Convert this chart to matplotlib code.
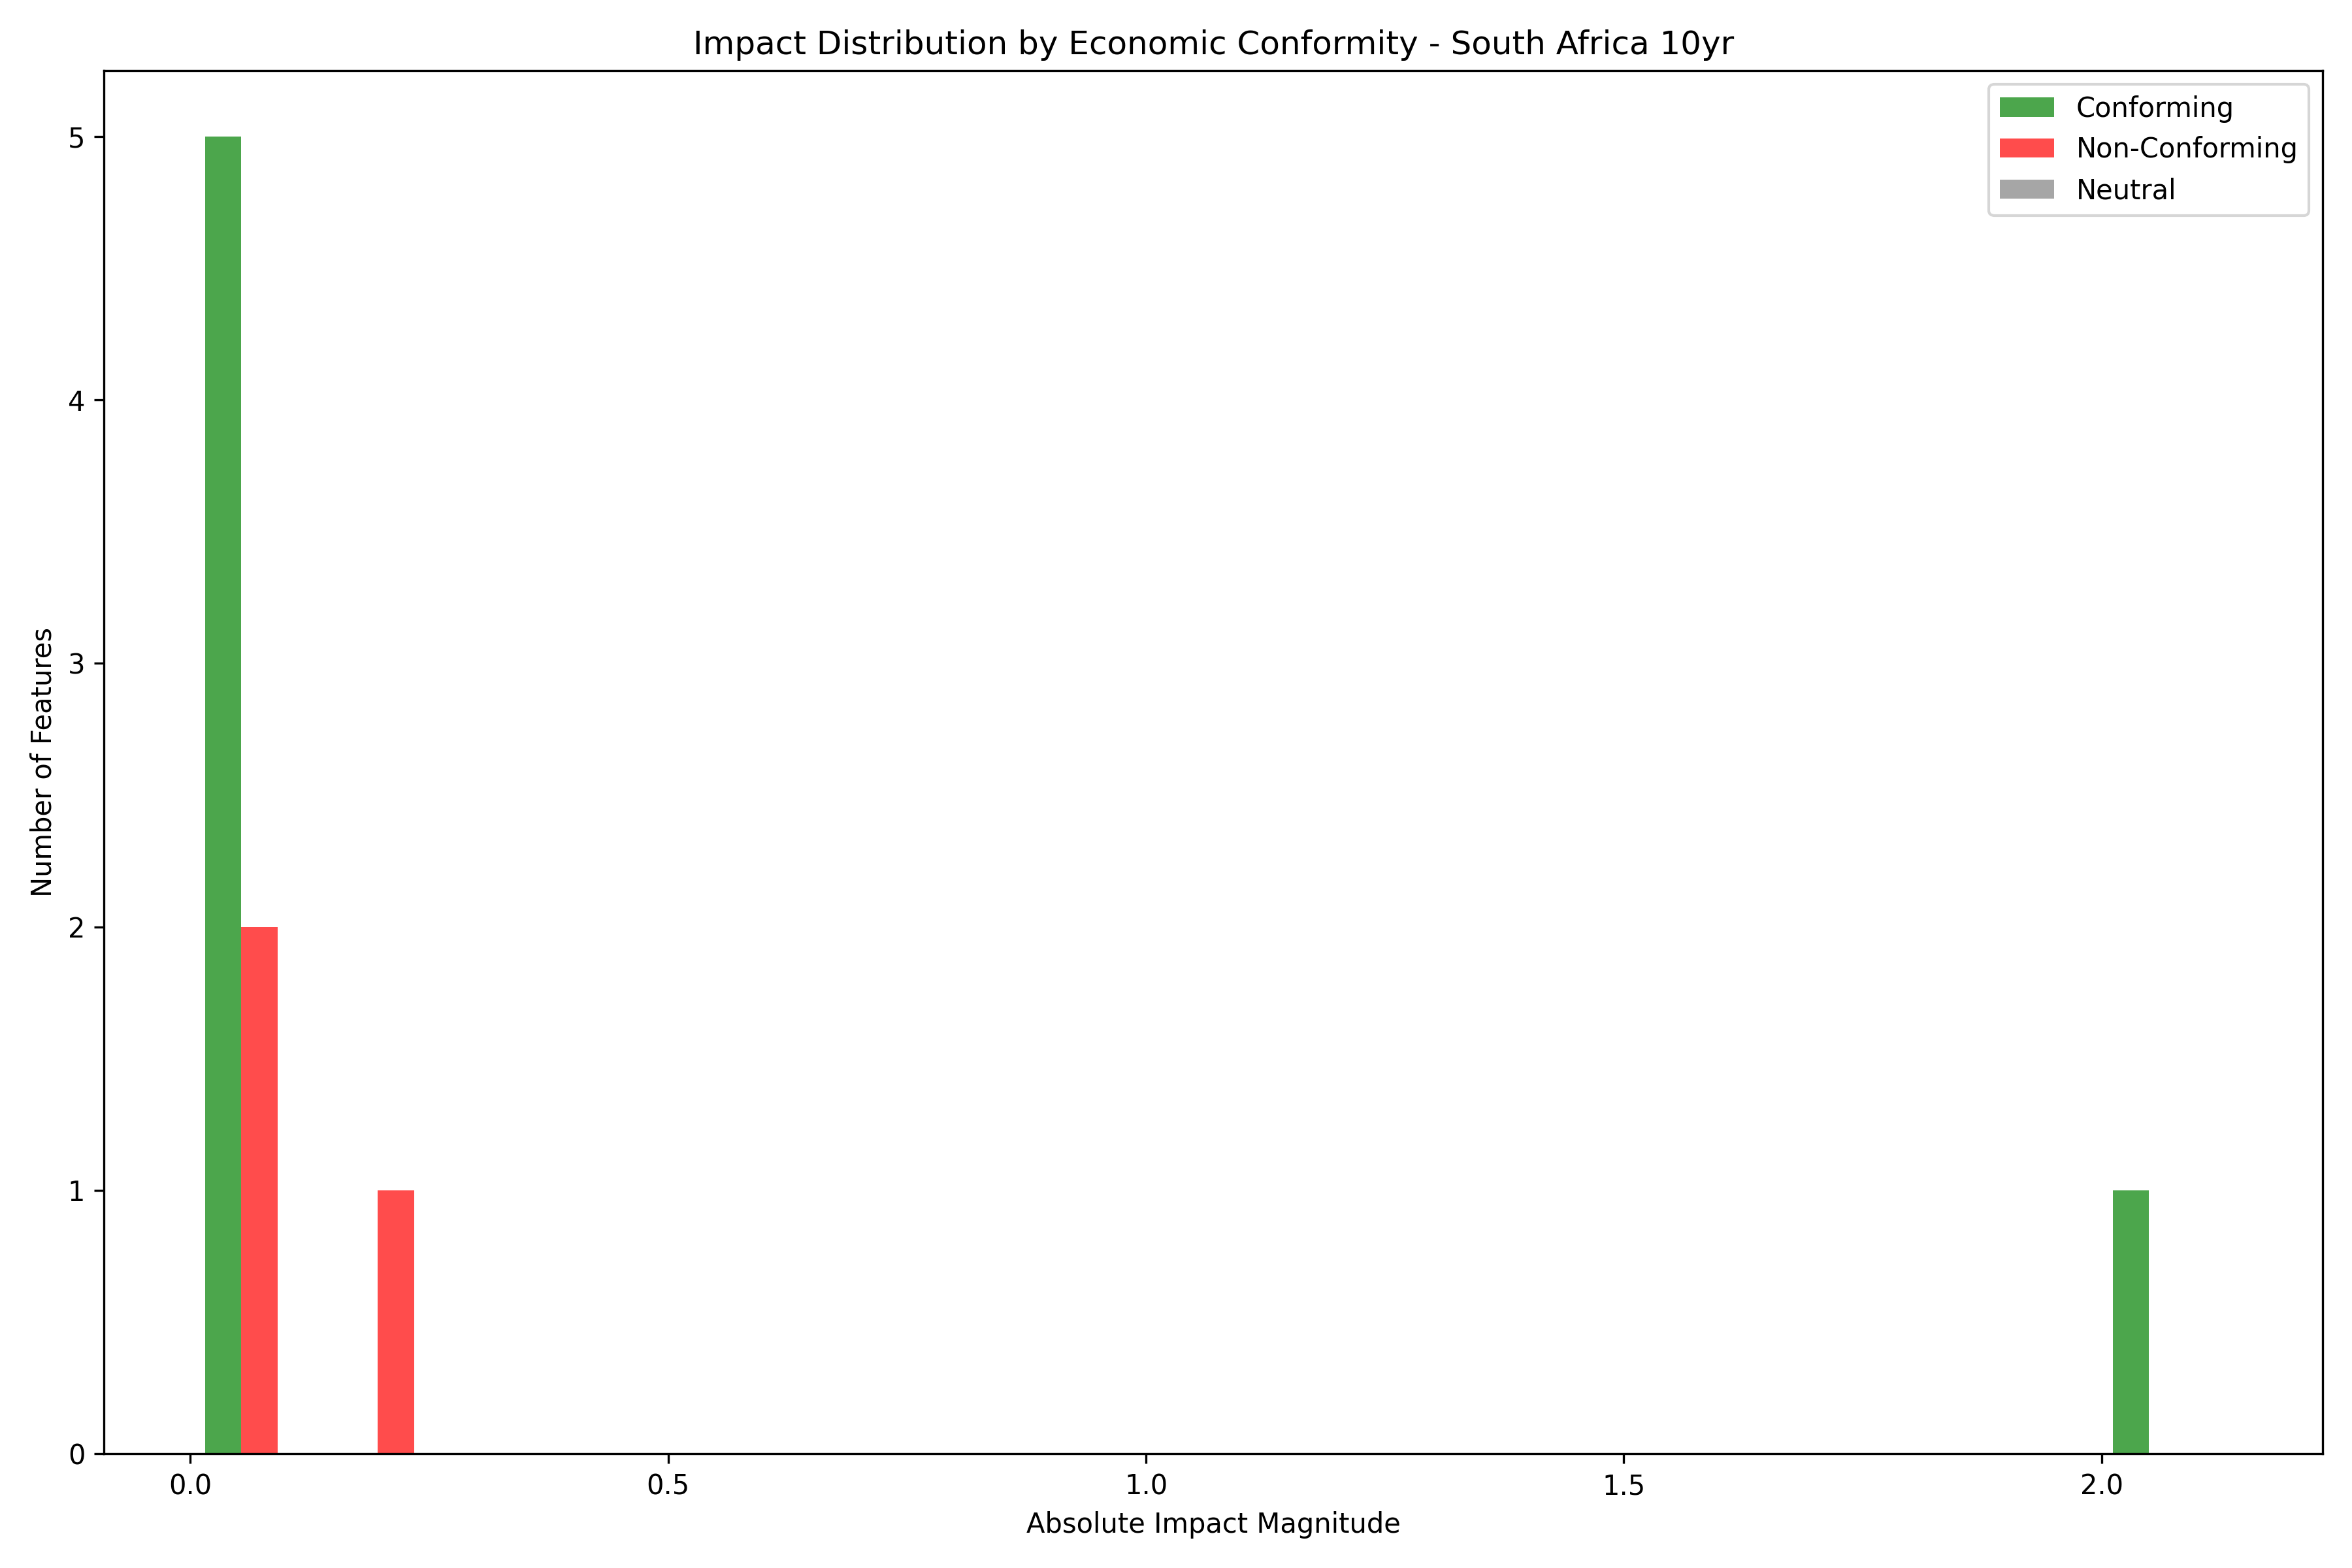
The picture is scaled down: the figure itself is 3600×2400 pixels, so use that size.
import matplotlib
matplotlib.use("Agg")
import matplotlib.pyplot as plt

# absolute impact magnitudes per group
conforming = [0.001, 0.02, 0.04, 0.07, 0.10, 2.14]
non_conforming = [0.03, 0.12, 0.21]
neutral = []

labels = ["Conforming", "Non-Conforming", "Neutral"]
colors = ["green", "red", "gray"]

fig, ax = plt.subplots(figsize=(12, 8), dpi=300)
ax.hist([conforming, non_conforming, neutral], bins=15, color=colors,
        alpha=0.7, label=labels)
ax.set_title("Impact Distribution by Economic Conformity - South Africa 10yr")
ax.set_xlabel("Absolute Impact Magnitude")
ax.set_ylabel("Number of Features")
ax.legend(loc="upper right")
plt.tight_layout()
plt.savefig("out.png")
